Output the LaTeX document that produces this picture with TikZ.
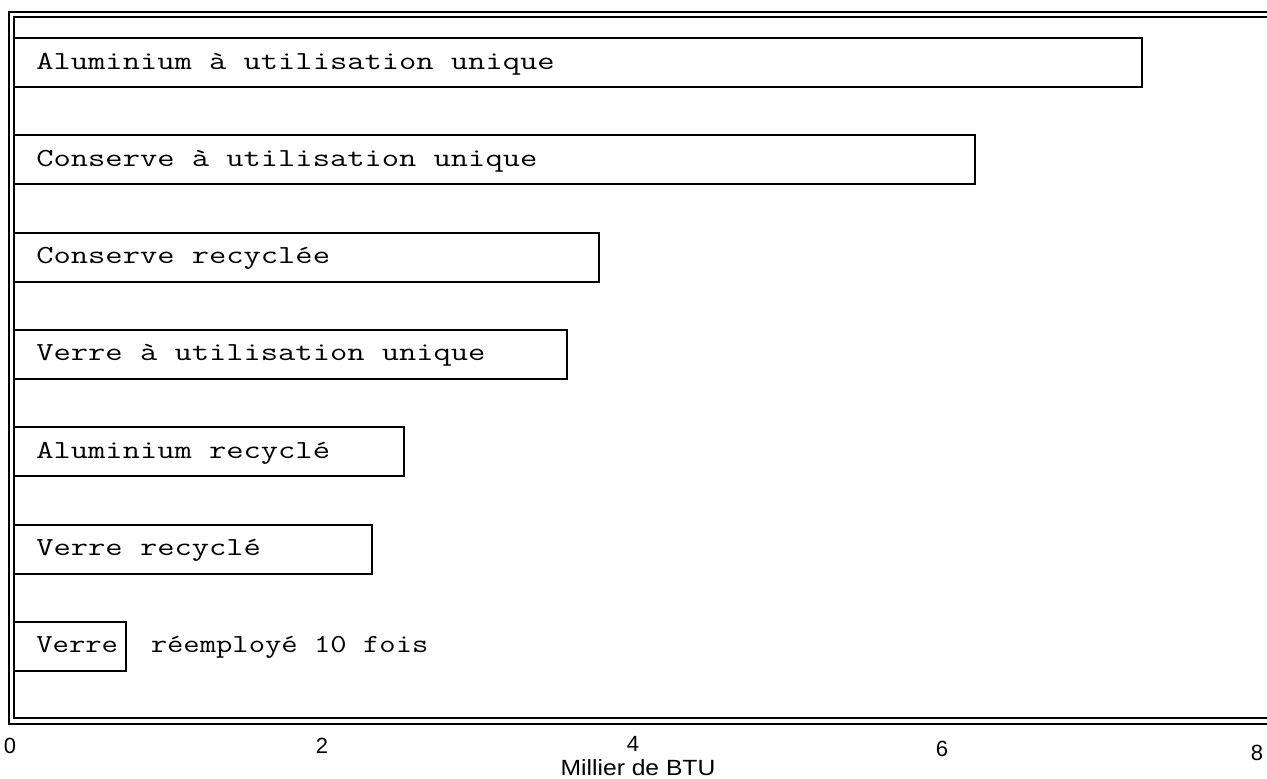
\documentclass[tikz,border=0pt]{standalone}
\usepackage{fontspec}
\setmainfont{Liberation Sans}
\usetikzlibrary{positioning}

\begin{document}
\begin{tikzpicture}[
    x=0.5pt, y=-0.5pt,
    frame/.style={
        line width=0.9pt
    },
    bar/.style={
        draw=black,
        line width=1pt
    },
    barlabel/.style={
        anchor=base west,
        inner sep=0pt,
        font=\ttfamily\fontsize{13}{15}\selectfont
    },
    ticklabel/.style={
        anchor=base,
        inner sep=0pt,
        font=\fontsize{11}{13}\selectfont
    }
]
\useasboundingbox (0,0) rectangle (1267,778);

% Frame
\draw[frame] (1267,12) -- (9,12) -- (9,724) -- (1267,724);
\draw[frame] (1267,17) -- (14,17) -- (14,718) -- (1267,718);

% Bars
\foreach \i/\len/\sc/\txt in {
    0/1142/1.29/Aluminium à utilisation unique,
    1/975/1.29/Conserve à utilisation unique,
    2/599/1.29/Conserve recyclée,
    3/567/1.29/Verre à utilisation unique,
    4/404/1.29/Aluminium recyclé,
    5/372/1.29/Verre recyclé,
    6/126/1.22/Verre\ \ réemployé 10 fois}{
    \draw[bar] (14,{38+97.3*\i}) rectangle (\len,{87+97.3*\i});
    \node[barlabel] (label\i) at (36,{69+97.3*\i}) {\scalebox{\sc}[1]{\txt}};
}

% Axis
\foreach \v/\xpos/\ypos in {0/10/753, 2/322/753, 4/633/751, 6/942/756, 8/1257/760}{
    \node[ticklabel] (tick\v) at (\xpos,\ypos) {\v};
}
\node[ticklabel] (axistitle) at (638,775) {\scalebox{1.12}[1]{Millier de BTU}};
\end{tikzpicture}
\end{document}
